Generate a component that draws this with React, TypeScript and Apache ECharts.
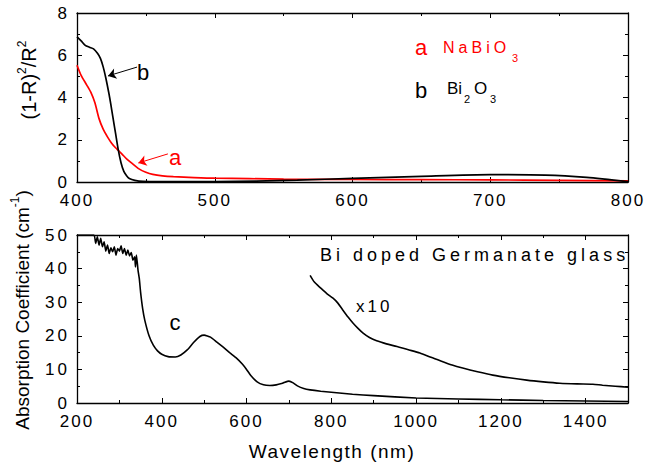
import React, { useEffect, useRef } from "react";
import * as echarts from "echarts";

// ---- Top panel: (1-R)^2/R^2 vs wavelength ----
const wlA = [400, 403, 407, 410, 413, 416, 419, 422, 425, 428, 430, 433, 436, 440, 445, 450, 455, 462, 470, 485, 500, 550, 600, 650, 700, 750, 800];
const valA = [5.53, 5.05, 4.6, 4.25, 3.75, 3.0, 2.5, 2.15, 1.85, 1.62, 1.5, 1.3, 1.1, 0.88, 0.62, 0.46, 0.36, 0.29, 0.25, 0.21, 0.18, 0.14, 0.12, 0.11, 0.1, 0.08, 0.05];

const wlB = [400, 403, 406, 409, 412, 415, 417, 419, 421, 423, 424.5, 426, 428, 430, 432, 434, 436, 438, 442, 448, 460, 480, 500, 530, 560, 600, 650, 700, 740, 770, 800];
const valB = [6.87, 6.68, 6.47, 6.38, 6.3, 6.08, 5.85, 5.45, 4.9, 4.25, 3.7, 3.09, 2.3, 1.51, 0.9, 0.5, 0.3, 0.17, 0.08, 0.03, 0.02, 0.02, 0.02, 0.04, 0.09, 0.17, 0.27, 0.35, 0.33, 0.22, 0.02];

// ---- Bottom panel: absorption coefficient ----
const wlC = [200, 240, 244, 248, 252, 256, 260, 264, 268, 272, 276, 280, 284, 288, 292, 296, 300, 304, 308, 312, 316, 320, 324, 328, 332, 336, 338, 340, 342, 344, 347, 350, 355, 360, 370, 380, 390, 400, 415, 432, 445, 460, 475, 490, 500, 515, 530, 545, 560, 575, 590, 600, 610, 625, 640, 655, 670, 685, 700, 710, 720, 735, 750, 775, 800, 850, 900, 1000, 1100, 1200, 1300, 1400, 1500];
const valC = [50, 50, 47.5, 49.5, 47, 49, 46.5, 48, 45.2, 47, 44.5, 46.2, 45, 46.5, 44, 46, 45.2, 46.8, 44.5, 46, 44, 45.5, 43.8, 44.8, 42.5, 43.5, 40.5, 44, 42, 39.5, 37, 33, 28, 24.6, 20, 17.2, 15.5, 14.5, 13.8, 13.7, 14.3, 15.8, 18, 19.8, 20.2, 19.6, 18.1, 16.6, 15, 13.5, 11.6, 10, 8.2, 6.3, 5.4, 5.2, 5.4, 5.9, 6.5, 6.0, 5.1, 4.3, 3.9, 3.5, 3.2, 2.6, 2.2, 1.5, 1.2, 0.95, 0.75, 0.6, 0.45];

const wlX10 = [750, 760, 775, 790, 804, 815, 827, 840, 851, 863, 875, 890, 907, 930, 955, 980, 1009, 1035, 1063, 1085, 1110, 1145, 1181, 1220, 1261, 1300, 1339, 1380, 1417, 1440, 1470, 1500];
const valX10 = [38, 36, 34.2, 32.5, 31.2, 29.8, 27.7, 25.5, 23.8, 22.2, 20.8, 19.5, 18.5, 17.6, 16.8, 15.9, 14.9, 13.6, 12.3, 11.3, 10.4, 9.3, 8.3, 7.5, 6.8, 6.3, 5.9, 5.7, 5.6, 5.3, 5.0, 4.7];

const topX = { min: 400, max: 800, interval: 100 };
const topY = { min: 0, max: 8, interval: 2 };
const botX = { min: 200, max: 1500, interval: 200 };
const botY = { min: 0, max: 50, interval: 10 };

const FF = "Liberation Sans";
const LS = (n: number) => `Liberation Sans;letter-spacing:${n}px`;

const zip = (xs: number[], ys: number[]) => xs.map((x, i) => [x, ys[i]]);

function axis(kind: "x" | "y", gridIndex: number, pos: string, range: any, labels: boolean, hideMax = false) {
  return {
    type: "value",
    gridIndex,
    position: pos,
    min: range.min,
    max: range.max,
    interval: range.interval,
    axisLine: { show: true, onZero: false, lineStyle: { color: "#000", width: 1.3 } },
    axisTick: { show: true, inside: true, length: 5, lineStyle: { color: "#000", width: 1 } },
    minorTick: { show: true, splitNumber: 2, length: 3, lineStyle: { color: "#000", width: 1 } },
    splitLine: { show: false },
    minorSplitLine: { show: false },
    axisLabel: labels
      ? {
          show: true,
          color: "#000",
          fontSize: 17,
          lineHeight: 17,
          fontFamily: kind === "x" ? LS(2) : LS(3),
          margin: kind === "x" ? 10 : 7,
          showMaxLabel: !hideMax,
          formatter: (v: number) => String(v),
        }
      : { show: false },
  };
}

function txt(x: number, y: number, text: string, size: number, color: string, family: string, align = "left") {
  return {
    type: "text",
    x,
    y,
    silent: true,
    style: {
      text,
      fill: color,
      fontSize: size,
      fontFamily: family,
      align,
      textAlign: align,
      verticalAlign: "middle",
      textVerticalAlign: "middle",
    },
  };
}

export default function App() {
  const ref = useRef<HTMLDivElement>(null);
  useEffect(() => {
    if (!ref.current) return;
    const chart = echarts.init(ref.current, null, { renderer: "svg" });
    const lineBase = {
      type: "line",
      showSymbol: false,
      symbol: "none",
      smooth: 0.25,
      silent: true,
      animation: false,
    };
    chart.setOption({
      animation: false,
      backgroundColor: "#fff",
      grid: [
        { left: 77, top: 13, width: 551, height: 169 },
        { left: 77, top: 235, width: 551, height: 168 },
      ],
      xAxis: [
        axis("x", 0, "bottom", topX, true),
        axis("x", 0, "top", topX, false),
        axis("x", 1, "bottom", botX, true, true),
        axis("x", 1, "top", botX, false),
      ],
      yAxis: [
        axis("y", 0, "left", topY, true),
        axis("y", 0, "right", topY, false),
        axis("y", 1, "left", botY, true),
        axis("y", 1, "right", botY, false),
      ],
      series: [
        {
          ...lineBase,
          name: "NaBiO3",
          xAxisIndex: 0,
          yAxisIndex: 0,
          data: zip(wlA, valA),
          lineStyle: { color: "#ff0000", width: 1.7 },
          itemStyle: { color: "#ff0000" },
          markLine: {
            silent: true,
            symbol: ["none", "arrow"],
            symbolSize: 8,
            label: { show: false },
            lineStyle: { color: "#ff0000", width: 1, type: "solid" },
            data: [[{ coord: [466, 1.33] }, { coord: [444.5, 0.9] }]],
          },
        },
        {
          ...lineBase,
          name: "Bi2O3",
          xAxisIndex: 0,
          yAxisIndex: 0,
          data: zip(wlB, valB),
          lineStyle: { color: "#000", width: 1.7 },
          itemStyle: { color: "#000" },
          markLine: {
            silent: true,
            symbol: ["none", "arrow"],
            symbolSize: 8,
            label: { show: false },
            lineStyle: { color: "#000", width: 1, type: "solid" },
            data: [[{ coord: [443.6, 5.44] }, { coord: [422.5, 5.02] }]],
          },
        },
        {
          ...lineBase,
          name: "c",
          smooth: 0.15,
          xAxisIndex: 2,
          yAxisIndex: 2,
          data: zip(wlC, valC),
          lineStyle: { color: "#000", width: 1.6 },
          itemStyle: { color: "#000" },
        },
        {
          ...lineBase,
          name: "x10",
          xAxisIndex: 2,
          yAxisIndex: 2,
          data: zip(wlX10, valX10),
          lineStyle: { color: "#000", width: 1.6 },
          itemStyle: { color: "#000" },
        },
      ],
      graphic: [
        // annotations top panel
        txt(175, 157, "a", 22, "#ff0000", FF, "center"),
        txt(143, 72, "b", 22, "#000", FF, "center"),
        // legend-like labels
        txt(421, 47, "a", 22, "#ff0000", FF, "center"),
        txt(443, 47, "NaBiO", 16, "#ff0000", LS(4)),
        txt(512, 58, "3", 11, "#ff0000", FF),
        txt(421, 90, "b", 22, "#000", FF, "center"),
        txt(447, 88, "Bi", 17, "#000", FF),
        txt(464, 99, "2", 11, "#000", FF),
        txt(474, 88, "O", 17, "#000", FF),
        txt(490, 99, "3", 11, "#000", FF),
        // bottom panel labels
        txt(175, 322, "c", 22, "#000", FF, "center"),
        txt(356, 306, "x10", 17, "#000", LS(3)),
        txt(320, 255, "Bi doped Germanate glass", 18, "#000", LS(4)),
        txt(332, 451, "Wavelength (nm)", 19, "#000", LS(1.5), "center"),
        // axis titles
        {
          type: "text",
          x: 29,
          y: 80,
          rotation: Math.PI / 2,
          silent: true,
          style: {
            text: "(1-R){s|2}/R{s|2}",
            fill: "#000",
            fontSize: 20,
            fontFamily: FF,
            lineHeight: 26,
            align: "center",
            textAlign: "center",
            verticalAlign: "middle",
            textVerticalAlign: "middle",
            rich: {
              s: { fontSize: 12, fontFamily: FF, fill: "#000", lineHeight: 12, verticalAlign: "top" },
            },
          },
        },
        {
          type: "text",
          x: 22,
          y: 310,
          rotation: Math.PI / 2,
          silent: true,
          style: {
            text: "Absorption Coefficient (cm{s|-1})",
            fill: "#000",
            fontSize: 19,
            fontFamily: FF,
            lineHeight: 26,
            align: "center",
            textAlign: "center",
            verticalAlign: "middle",
            textVerticalAlign: "middle",
            rich: {
              s: { fontSize: 12, fontFamily: FF, fill: "#000", lineHeight: 12, verticalAlign: "top" },
            },
          },
        },
      ],
    });
    return () => chart.dispose();
  }, []);
  return (
    <div
      ref={ref}
      style={{ position: "fixed", left: 0, top: 0, width: 645, height: 468, background: "#fff" }}
    />
  );
}
